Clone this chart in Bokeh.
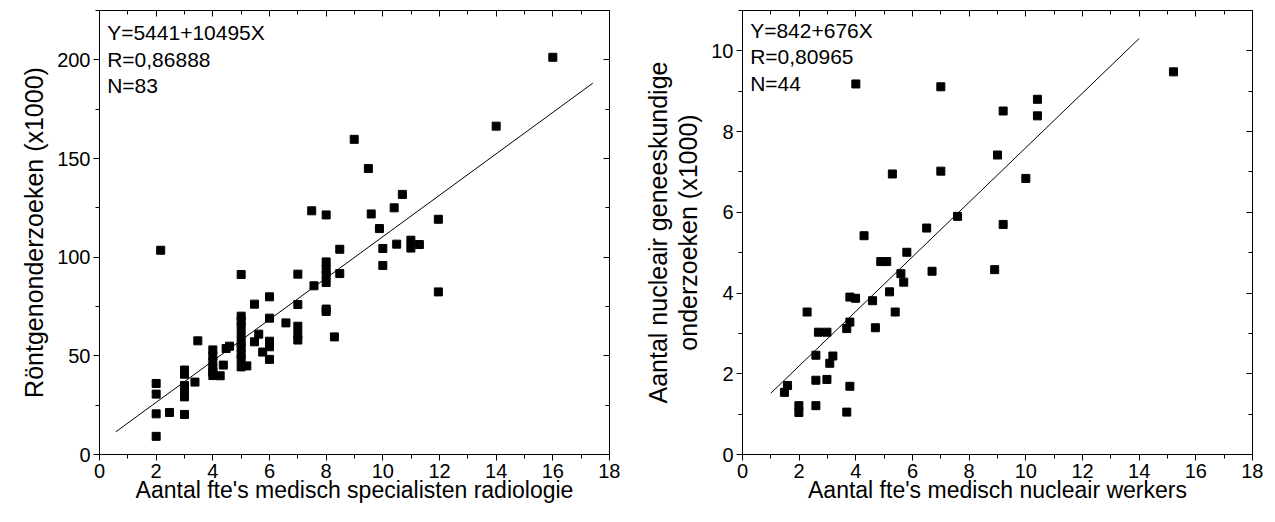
from bokeh.plotting import figure
from bokeh.layouts import row
from bokeh.models import LinearAxis, SingleIntervalTicker, Range1d, ColumnDataSource
from bokeh.core.properties import value
from bokeh.embed import file_html
from bokeh.resources import INLINE

# ---------------- data: left panel (radiologie) ----------------
rad_x = [2, 2, 2, 2, 2.16, 2.47,
         3, 3, 3, 3, 3, 3, 3.37, 3.47,
         4, 4, 4, 4, 4, 4, 4.26, 4.37, 4.47, 4.59,
         5, 5, 5, 5, 5, 5, 5, 5, 5, 5, 5.2, 5.47, 5.47, 5.62, 5.76,
         6, 6, 6, 6, 6, 6.58,
         7, 7, 7, 7, 7, 7.49, 7.57,
         8, 8, 8, 8, 8, 8, 8, 8.29, 8.48, 8.48, 8.99,
         9.49, 9.59, 9.88, 10, 10, 10.4, 10.49, 10.69, 10.99, 10.99, 11.29,
         11.96, 11.96, 14, 16]
rad_y = [36, 30.6, 20.6, 9.2, 103.5, 21.3,
         42.8, 40.7, 35, 32.6, 29.2, 20.3, 36.7, 57.6,
         53, 50, 47, 44, 42, 40, 39.9, 45.3, 53.7, 54.9,
         91.2, 70.1, 67.7, 64.7, 60.6, 56.6, 54.2, 50.9, 48.2, 44.4, 44.9, 76.2, 57.1, 61, 51.9,
         79.9, 69.1, 57.4, 54.6, 48.2, 66.7,
         91.4, 76, 65, 60.8, 58, 123.5, 85.5,
         121.4, 97.6, 93.9, 90.9, 87.2, 73.7, 72.5, 59.6, 104, 91.7, 159.7,
         144.9, 121.9, 114.5, 104.4, 95.8, 125, 106.6, 131.8, 108.6, 104.6, 106.4,
         119.2, 82.4, 166.4, 201.3]
rad_intercept = 5.441
rad_slope = 10.495
rad_fit_x = [0.575, 17.41]
rad_text = "Y=5441+10495X\nR=0,86888\nN=83"
rad_xlabel = "Aantal fte's medisch specialisten radiologie"
rad_ylabel = "Röntgenonderzoeken (x1000)"

# ---------------- data: right panel (nucleair) ----------------
nuc_x = [4.0, 7.0, 15.21, 10.41, 10.41, 9.2, 9.0, 5.29, 7.0, 10.0,
         7.59, 9.2, 6.5, 4.29, 5.8, 4.88, 5.09, 5.59, 5.69, 6.69,
         8.9, 5.19, 3.79, 3.99, 4.59, 5.39, 2.28, 2.68, 2.98, 3.79,
         3.68, 4.69, 2.59, 3.19, 3.08, 2.59, 2.98, 3.79, 1.59, 1.48,
         1.99, 1.99, 2.59, 3.68]
nuc_y = [9.18, 9.11, 9.48, 8.8, 8.39, 8.51, 7.42, 6.95, 7.02, 6.84,
         5.9, 5.7, 5.61, 5.42, 5.01, 4.78, 4.78, 4.48, 4.27, 4.54,
         4.58, 4.03, 3.9, 3.87, 3.81, 3.53, 3.53, 3.03, 3.03, 3.28,
         3.12, 3.14, 2.46, 2.44, 2.26, 1.84, 1.86, 1.69, 1.71, 1.54,
         1.21, 1.04, 1.21, 1.05]
nuc_intercept = 0.842
nuc_slope = 0.676
nuc_fit_x = [1.0, 14.0]
nuc_text = "Y=842+676X\nR=0,80965\nN=44"
nuc_xlabel = "Aantal fte's medisch nucleair werkers"
nuc_ylabel = "Aantal nucleair geneeskundige\nonderzoeken (x1000)"

FONT = "Liberation Sans"


def style_axis(ax, interval, labels=True, inward=False, label_size="23px"):
    ax.ticker = SingleIntervalTicker(interval=interval, num_minor_ticks=2)
    ax.axis_line_color = "black"
    ax.major_tick_line_color = "black"
    ax.minor_tick_line_color = "black"
    if inward:
        ax.major_tick_in = 6
        ax.major_tick_out = 0
        ax.minor_tick_in = 4
        ax.minor_tick_out = 0
    else:
        ax.major_tick_in = 0
        ax.major_tick_out = 6
        ax.minor_tick_in = 0
        ax.minor_tick_out = 4
    ax.major_label_text_font = FONT
    ax.axis_label_text_font = FONT
    ax.axis_label_text_font_style = "normal"
    ax.axis_label_text_color = "black"
    if labels:
        ax.major_label_text_color = "black"
        ax.major_label_text_font_size = "20px"
        ax.axis_label_text_font_size = label_size
        ax.axis_label_text_line_height = 1.08
        ax.major_label_standoff = 3
    else:
        ax.major_label_text_color = None
        ax.major_label_text_font_size = "1px"
        ax.major_label_standoff = 0


def make_panel(xs, ys, intercept, slope, fit_x, text, text_y, xlabel, ylabel,
               ymax, yint, border_left):
    p = figure(frame_width=510, frame_height=444,
               x_range=Range1d(0, 18), y_range=Range1d(0, ymax),
               output_backend="svg", toolbar_location=None,
               min_border_left=border_left, min_border_right=11,
               min_border_top=10, min_border_bottom=10)
    p.background_fill_color = "white"
    p.border_fill_color = "white"
    p.outline_line_color = "black"
    p.outline_line_width = 1
    p.xgrid.visible = False
    p.ygrid.visible = False

    style_axis(p.xaxis[0], 2, label_size="23px")
    style_axis(p.yaxis[0], yint, label_size="25px")
    p.xaxis[0].axis_label = xlabel
    p.yaxis[0].axis_label = ylabel
    p.xaxis[0].axis_label_standoff = -4
    p.yaxis[0].axis_label_standoff = 6

    top = LinearAxis()
    style_axis(top, 2, labels=False, inward=True)
    p.add_layout(top, "above")
    right = LinearAxis()
    style_axis(right, yint, labels=False, inward=True)
    p.add_layout(right, "right")

    fy = [intercept + slope * v for v in fit_x]
    p.line(fit_x, fy, line_color="black", line_width=1)

    src = ColumnDataSource(dict(x=xs, y=ys))
    p.scatter("x", "y", source=src, marker="square", size=8,
              fill_color="black", line_color="black")

    p.text(x=[0.27], y=[text_y], text=[text], text_font=value(FONT),
           text_font_size="21px", text_baseline="top", text_align="left",
           text_color="black", text_line_height=1.15)
    return p


p1 = make_panel(rad_x, rad_y, rad_intercept, rad_slope, rad_fit_x, rad_text,
                219.6, rad_xlabel, rad_ylabel, 225, 50, 99)
p2 = make_panel(nuc_x, nuc_y, nuc_intercept, nuc_slope, nuc_fit_x, nuc_text,
                10.79, nuc_xlabel, nuc_ylabel, 11, 2, 122)

layout = row(p1, p2, spacing=0)
open("out.html", "w").write(file_html(layout, INLINE))
